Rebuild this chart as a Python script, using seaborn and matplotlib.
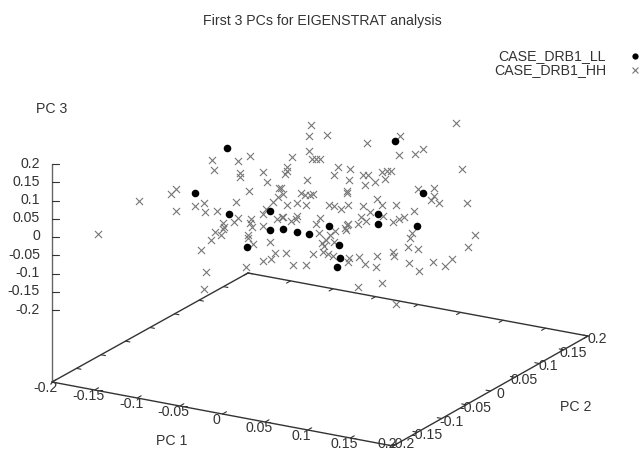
import numpy as np
import pandas as pd
import seaborn as sns
import matplotlib.pyplot as plt

# positions of the samples on the projected 3D view
hh_x = [139, 171, 176, 176, 195, 204, 205, 217, 212, 214, 238, 250, 240, 240, 263, 267, 249, 236, 279, 273,
        278, 263, 266, 223, 224, 238, 234, 251, 250, 252, 263, 277,
        311, 309, 327, 367, 400, 456, 309, 292, 312, 316, 320, 399, 415, 423, 462, 287, 287, 285,
        338, 334, 350, 349, 307, 363, 368, 365, 375, 382, 387, 391, 385, 281, 283, 301, 305, 310, 313, 347,
        347, 418, 434, 434, 431, 439, 467, 377, 382, 396, 414, 287, 297, 306, 329, 334, 341, 348, 363, 370,
        383, 361, 366, 358, 347, 345, 320, 316, 297, 296, 291, 283, 393, 399, 404,
        98, 223, 215, 221, 211, 201, 206, 204, 248, 248, 253, 270, 275, 286, 271, 263, 293, 246, 282,
        348, 346, 335, 319, 330, 326, 322, 324, 334, 412, 410, 408, 418, 475, 468, 452, 445, 433, 419,
        409, 393, 394, 377, 376, 365, 359, 349, 348, 323, 328, 333, 313, 306, 358, 382, 396]
hh_y = [201, 194, 189, 211, 206, 203, 212, 211, 160, 170, 161, 156, 173, 177, 172, 182, 191, 202, 188, 202,
        197, 214, 209, 223, 227, 218, 222, 219, 223, 227, 226, 219,
        125, 136, 135, 143, 136, 123, 151, 157, 159, 159, 159, 155, 154, 149, 169, 167, 171, 174,
        167, 175, 169, 180, 180, 175, 175, 185, 182, 172, 171, 171, 179, 188, 194, 193, 195, 195, 194, 191,
        193, 189, 188, 196, 200, 203, 203, 199, 205, 205, 211, 205, 203, 205, 205, 206, 209, 205, 206, 212,
        216, 217, 221, 224, 225, 228, 218, 224, 216, 219, 221, 217, 222, 219, 217,
        234, 229, 232, 235, 240, 250, 272, 289, 235, 238, 244, 242, 253, 253, 259, 261, 265, 267, 217,
        224, 230, 231, 233, 235, 240, 243, 246, 242, 233, 238, 247, 249, 235, 247, 259, 266, 262, 271,
        263, 252, 256, 256, 267, 264, 257, 258, 262, 252, 254, 256, 254, 265, 287, 283, 304]
ll_x = [227, 195, 229, 270, 270, 395, 423, 378, 378, 329, 417, 283, 297, 309, 247, 339, 340, 337]
ll_y = [148, 193, 214, 211, 230, 141, 193, 214, 224, 226, 226, 229, 232, 234, 247, 245, 258, 267]

series_names = ['CASE_DRB1_LL', 'CASE_DRB1_HH']
tick_values = [-0.2, -0.15, -0.1, -0.05, 0, 0.05, 0.1, 0.15, 0.2]
tick_labels = ['-0.2', '-0.15', '-0.1', '-0.05', '0', '0.05', '0.1', '0.15', '0.2']

# corners of the floor and the height axis, in picture pixels
left = np.array([52.0, 382.0])
front = np.array([393.0, 446.0])
right = np.array([588.0, 336.0])
back = np.array([248.0, 273.0])
z_top, z_bottom = 164.0, 310.0


def along(a, b, value):
    return a + (b - a) * (value + 0.2) / 0.4


sns.set_style('white')
plt.rcParams['font.family'] = ['Liberation Sans', 'DejaVu Sans']

fig = plt.figure(figsize=(6.42, 4.5), dpi=100)
ax = fig.add_axes([0, 0, 1, 1])
ax.set(xlim=[0, 642], ylim=[450, 0])
ax.axis('off')

line_color = '#333333'
text_color = '#333333'
cross_color = '#777777'
tick_size = 10.2

# floor and height axis
for a, b in [(left, front), (front, right), (left, back), (back, right)]:
    ax.plot([a[0], b[0]], [a[1], b[1]], color=line_color, lw=1.0, solid_capstyle='round')
ax.plot([left[0], left[0]], [left[1], z_top], color='#666666', lw=1.0)

unit_pc1 = (front - left) / np.linalg.norm(front - left) * 4.5
unit_pc2 = (right - front) / np.linalg.norm(right - front) * 4.5

for v, lab in zip(tick_values, tick_labels):
    # PC 1 ticks, front edge and mirrored on the back edge
    p = along(left, front, v)
    ax.plot([p[0], p[0] + unit_pc2[0]], [p[1], p[1] + unit_pc2[1]], color=line_color, lw=0.8)
    # the last label of each floor axis is kept inside the picture
    ax.text(p[0] - 6, min(p[1] + 6.5, 444), lab, ha='center', va='center', fontsize=tick_size, color=text_color)
    q = along(back, right, v)
    ax.plot([q[0], q[0] - unit_pc2[0]], [q[1], q[1] - unit_pc2[1]], color=line_color, lw=0.8)

    # PC 2 ticks
    p = along(front, right, v)
    ax.plot([p[0], p[0] - unit_pc1[0]], [p[1], p[1] - unit_pc1[1]], color=line_color, lw=0.8)
    ax.text(p[0] + 9.5, min(p[1] + 3, 444), lab, ha='center', va='center', fontsize=tick_size, color=text_color)
    q = along(left, back, v)
    ax.plot([q[0], q[0] + unit_pc1[0]], [q[1], q[1] + unit_pc1[1]], color=line_color, lw=0.8)

    # PC 3 ticks
    y = z_bottom + (z_top - z_bottom) * (v + 0.2) / 0.4
    ax.plot([left[0], left[0] + 7], [y, y], color=line_color, lw=0.8)
    ax.text(40, y - 0.5, lab, ha='right', va='center', fontsize=tick_size, color=text_color)

hh = pd.DataFrame({'x': hh_x, 'y': hh_y})
ll = pd.DataFrame({'x': ll_x, 'y': ll_y})
sns.scatterplot(x='x', y='y', data=hh, ax=ax, marker='x', s=26, color=cross_color, linewidth=0.8, legend=False)
sns.scatterplot(x='x', y='y', data=ll, ax=ax, marker='o', s=30, color='black', linewidth=0, legend=False)

ax.text(322, 21, 'First 3 PCs for EIGENSTRAT analysis', ha='center', va='center', fontsize=10.2, color=text_color)
ax.text(52, 109, 'PC 3', ha='center', va='center', fontsize=10.2, color=text_color)
ax.text(172, 441, 'PC 1', ha='center', va='center', fontsize=10.2, color=text_color)
ax.text(576, 407, 'PC 2', ha='center', va='center', fontsize=10.2, color=text_color)

# key in the top right corner
ax.text(606, 56.5, series_names[0], ha='right', va='center', fontsize=10.2, color=text_color)
ax.text(606, 70.5, series_names[1], ha='right', va='center', fontsize=10.2, color=text_color)
ax.plot([635], [56], marker='o', ms=4.5, color='black', mew=0)
ax.plot([635], [70], marker='x', ms=4.5, color=cross_color, mew=0.8)

fig.savefig('out.png', dpi=100)
plt.close(fig)
